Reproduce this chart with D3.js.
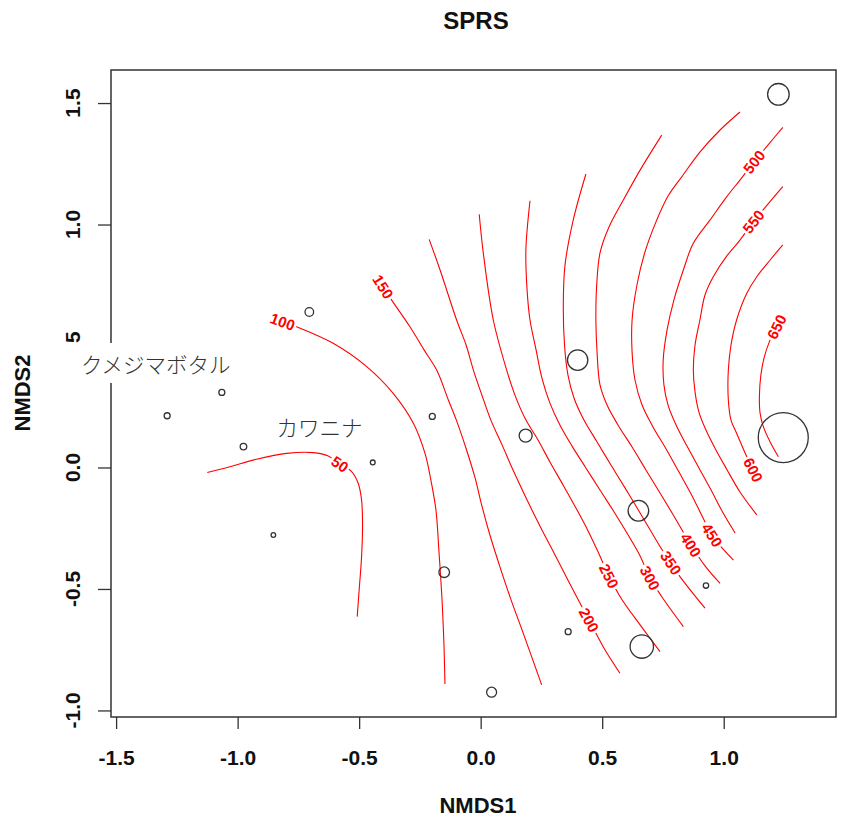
<!DOCTYPE html>
<html><head><meta charset="utf-8">
<script src="https://cdn.jsdelivr.net/npm/d3@7"></script>
<style>body{margin:0;background:#fff} svg{display:block}</style>
</head><body>
<svg id="chart" width="841" height="821"></svg>
<script>
// ---------- data ----------
const chartTitle = "SPRS";
const xTitle = "NMDS1";
const yTitle = "NMDS2";
const xTicks = [-1.5, -1.0, -0.5, 0.0, 0.5, 1.0];
const yTicks = [-1.0, -0.5, 0.0, 0.5, 1.0, 1.5];

// site scores and symbol size (cex)
const siteX   = [1.225,-0.705,0.399,-1.065,-1.290,-0.199,0.185,-0.976,-0.444,1.245,0.649,-0.853,-0.150,0.927,0.360,0.663,0.045];
const siteY   = [1.536,0.640,0.442,0.309,0.213,0.210,0.131,0.086,0.021,0.123,-0.178,-0.278,-0.431,-0.486,-0.676,-0.737,-0.925];
const siteCex = [2.16,0.86,2.04,0.6,0.6,0.6,1.3,0.66,0.48,5.0,2.06,0.46,1.06,0.54,0.6,2.34,1.0];

// species labels
const speciesNames = ["クメジマボタル", "カワニナ"];
const speciesX = [-1.337, -0.663];
const speciesY = [0.430, 0.168];

// fitted surface contours
const contourLevels = [50,100,150,200,250,300,350,400,450,500,550,600,650];
const c50  = [[-1.125,-0.021],[-1.032,0.003],[-0.922,0.034],[-0.798,0.058],[-0.689,0.061],[-0.627,0.047],[-0.579,0.014],[-0.531,-0.017],[-0.504,-0.065],[-0.490,-0.134],[-0.486,-0.230],[-0.490,-0.367],[-0.500,-0.504],[-0.508,-0.614]];
const c100 = [[-0.815,0.600],[-0.757,0.579],[-0.607,0.511],[-0.469,0.415],[-0.360,0.305],[-0.277,0.182],[-0.229,0.058],[-0.205,-0.051],[-0.184,-0.175],[-0.172,-0.340],[-0.159,-0.545],[-0.151,-0.730],[-0.147,-0.891]];
const c150 = [[-0.401,0.744],[-0.366,0.689],[-0.291,0.579],[-0.233,0.484],[-0.181,0.401],[-0.133,0.278],[-0.100,0.195],[-0.058,0.072],[-0.023,-0.043],[0.005,-0.158],[0.038,-0.278],[0.079,-0.408],[0.125,-0.545],[0.175,-0.682],[0.251,-0.895]];
const c200 = [[-0.212,0.939],[-0.167,0.813],[-0.099,0.607],[-0.060,0.504],[-0.030,0.401],[0.005,0.298],[0.042,0.195],[0.088,0.093],[0.137,-0.019],[0.191,-0.134],[0.248,-0.249],[0.306,-0.360],[0.363,-0.471],[0.417,-0.574],[0.446,-0.628],[0.507,-0.743],[0.573,-0.847]];
const c250 = [[-0.006,1.042],[0.011,0.881],[0.052,0.607],[0.107,0.401],[0.141,0.298],[0.182,0.204],[0.236,0.113],[0.285,0.023],[0.339,-0.072],[0.392,-0.167],[0.442,-0.261],[0.487,-0.356],[0.528,-0.447],[0.577,-0.537],[0.656,-0.648],[0.738,-0.758]];
const c300 = [[0.203,1.098],[0.186,0.895],[0.191,0.730],[0.203,0.607],[0.228,0.484],[0.252,0.368],[0.285,0.265],[0.326,0.175],[0.376,0.088],[0.433,-0.002],[0.491,-0.093],[0.549,-0.183],[0.602,-0.270],[0.656,-0.364],[0.697,-0.455],[0.746,-0.533],[0.834,-0.655]];
const c350 = [[0.433,1.208],[0.381,1.019],[0.347,0.833],[0.340,0.669],[0.345,0.504],[0.359,0.381],[0.384,0.286],[0.425,0.195],[0.479,0.105],[0.536,0.010],[0.594,-0.084],[0.651,-0.179],[0.705,-0.270],[0.750,-0.344],[0.783,-0.393],[0.820,-0.449],[0.923,-0.579]];
const c400 = [[0.745,1.368],[0.656,1.224],[0.587,1.101],[0.528,0.990],[0.491,0.883],[0.477,0.743],[0.474,0.607],[0.479,0.471],[0.491,0.340],[0.520,0.257],[0.565,0.175],[0.623,0.084],[0.680,-0.010],[0.738,-0.105],[0.795,-0.200],[0.865,-0.319],[0.923,-0.405],[0.985,-0.477]];
const c450 = [[1.067,1.463],[0.985,1.389],[0.902,1.298],[0.833,1.204],[0.771,1.117],[0.721,1.010],[0.676,0.887],[0.643,0.751],[0.623,0.607],[0.623,0.475],[0.635,0.360],[0.664,0.257],[0.709,0.167],[0.763,0.076],[0.816,-0.019],[0.870,-0.117],[0.915,-0.208],[0.952,-0.278],[0.993,-0.331],[1.040,-0.381]];
const c500 = [[1.243,1.400],[1.182,1.327],[1.125,1.258],[1.067,1.183],[1.012,1.114],[0.944,1.019],[0.875,0.923],[0.834,0.813],[0.795,0.689],[0.767,0.566],[0.751,0.442],[0.754,0.340],[0.771,0.257],[0.804,0.175],[0.849,0.088],[0.898,-0.002],[0.948,-0.093],[0.993,-0.179],[1.047,-0.270]];
const c550 = [[1.243,1.156],[1.182,1.084],[1.122,1.012],[1.067,0.936],[1.012,0.870],[0.957,0.785],[0.923,0.710],[0.902,0.607],[0.882,0.504],[0.875,0.401],[0.882,0.311],[0.898,0.228],[0.927,0.154],[0.968,0.072],[1.014,-0.010],[1.067,-0.101],[1.136,-0.195]];
const c600 = [[1.243,0.916],[1.191,0.854],[1.136,0.785],[1.095,0.717],[1.053,0.607],[1.030,0.504],[1.019,0.401],[1.019,0.278],[1.030,0.195],[1.053,0.141],[1.095,0.044],[1.122,-0.010]];
const c650 = [[1.218,0.579],[1.188,0.518],[1.166,0.451],[1.153,0.381],[1.147,0.298],[1.149,0.228],[1.163,0.168],[1.191,0.105],[1.225,0.044]];
const contourLines = [c50,c100,c150,c200,c250,c300,c350,c400,c450,c500,c550,c600,c650];
// vertex at which each contour's label sits
const labelVertex = [6,0,0,14,12,14,14,15,17,2,2,11,0];

// ---------- layout ----------
const svg = d3.select("#chart");
const box = {left:111, right:836, top:70, bottom:717};
const x = d3.scaleLinear().domain([-1.521, 1.462]).range([box.left, box.right]);
const y = d3.scaleLinear().domain([-1.027, 1.636]).range([box.bottom, box.top]);
const r = d3.scaleLinear().domain([0, 1]).range([0, 5]);
const axisFont = "'Liberation Sans', Arial, Helvetica, sans-serif";
const fmt = v => v.toFixed(1);

// contours
const line = d3.line().x(d => x(d[0])).y(d => y(d[1])).curve(d3.curveCatmullRom.alpha(0.5));
const gC = svg.append("g");
gC.selectAll("path").data(contourLines).join("path")
  .attr("d", line).attr("fill", "none").attr("stroke", "#ff0000").attr("stroke-width", 1.1);

// contour labels
const gL = svg.append("g");
contourLines.forEach((pts, i) => {
  const k = labelVertex[i];
  const p = pts[k], a = pts[Math.max(k-1,0)], b = pts[Math.min(k+1, pts.length-1)];
  let ang = Math.atan2(y(b[1]) - y(a[1]), x(b[0]) - x(a[0])) * 180 / Math.PI;
  if (ang > 90) ang -= 180;
  if (ang < -90) ang += 180;
  const g = gL.append("g").attr("transform", `translate(${x(p[0])},${y(p[1])}) rotate(${ang})`);
  const rect = g.append("rect").attr("fill", "#fff");
  const t = g.append("text").text(contourLevels[i])
    .attr("text-anchor", "middle").attr("dominant-baseline", "central")
    .attr("font-family", axisFont).attr("font-weight", "bold").attr("font-size", 15)
    .attr("fill", "#ff0000");
  const w = t.node().getComputedTextLength();
  rect.attr("x", -w/2 - 2).attr("y", -6.5).attr("width", w + 4).attr("height", 13);
});

// sites
svg.append("g").selectAll("circle").data(siteX).join("circle")
  .attr("cx", (d, i) => x(siteX[i])).attr("cy", (d, i) => y(siteY[i]))
  .attr("r", (d, i) => r(siteCex[i]))
  .attr("fill", "none").attr("stroke", "#333").attr("stroke-width", 1.3);

// box
svg.append("rect").attr("x", box.left).attr("y", box.top)
  .attr("width", box.right - box.left).attr("height", box.bottom - box.top)
  .attr("fill", "none").attr("stroke", "#333").attr("stroke-width", 1.5);

// axes
const gx = svg.append("g").attr("transform", `translate(0,${box.bottom})`)
  .call(d3.axisBottom(x).tickValues(xTicks).tickSize(12).tickPadding(21).tickFormat(fmt));
gx.select(".domain").remove();
gx.selectAll("line").attr("stroke", "#333").attr("stroke-width", 1.3);
gx.selectAll("text").attr("font-family", axisFont).attr("font-weight", "bold")
  .attr("font-size", 21).attr("fill", "#111");

const gy = svg.append("g").attr("transform", `translate(${box.left},0)`)
  .call(d3.axisLeft(y).tickValues(yTicks).tickSize(13).tickFormat(""));
gy.select(".domain").remove();
gy.selectAll("line").attr("stroke", "#333").attr("stroke-width", 1.3);
svg.append("g").selectAll("text").data(yTicks).join("text")
  .attr("transform", d => `translate(72,${y(d)}) rotate(-90)`)
  .attr("text-anchor", "middle").attr("dominant-baseline", "central")
  .attr("font-family", axisFont).attr("font-weight", "bold").attr("font-size", 21)
  .attr("fill", "#111").text(fmt);

// titles
svg.append("text").attr("x", 476).attr("y", 29).attr("text-anchor", "middle")
  .attr("font-family", axisFont).attr("font-weight", "bold").attr("font-size", 24)
  .attr("fill", "#111").text(chartTitle);
svg.append("text").attr("x", 478).attr("y", 813).attr("text-anchor", "middle")
  .attr("font-family", axisFont).attr("font-weight", "bold").attr("font-size", 22)
  .attr("fill", "#111").text(xTitle);
svg.append("text").attr("transform", "translate(30,393) rotate(-90)").attr("text-anchor", "middle")
  .attr("font-family", axisFont).attr("font-weight", "bold").attr("font-size", 22)
  .attr("fill", "#111").text(yTitle);

// species labels with white boxes
const gS = svg.append("g");
speciesNames.forEach((name, i) => {
  const cx = x(speciesX[i]), cy = y(speciesY[i]);
  const rect = gS.append("rect").attr("fill", "#fff");
  const t = gS.append("text").attr("x", cx).attr("y", cy)
    .attr("text-anchor", "middle").attr("dominant-baseline", "central")
    .attr("font-family", "'Noto Sans CJK JP', 'Noto Sans CJK SC', sans-serif")
    .attr("font-weight", 300).attr("font-size", 21.5).attr("fill", "#333").text(name);
  const w = t.node().getComputedTextLength();
  rect.attr("x", cx - w/2 - 24).attr("y", cy - 20).attr("width", w + 48).attr("height", 40);
});
</script>
</body></html>
